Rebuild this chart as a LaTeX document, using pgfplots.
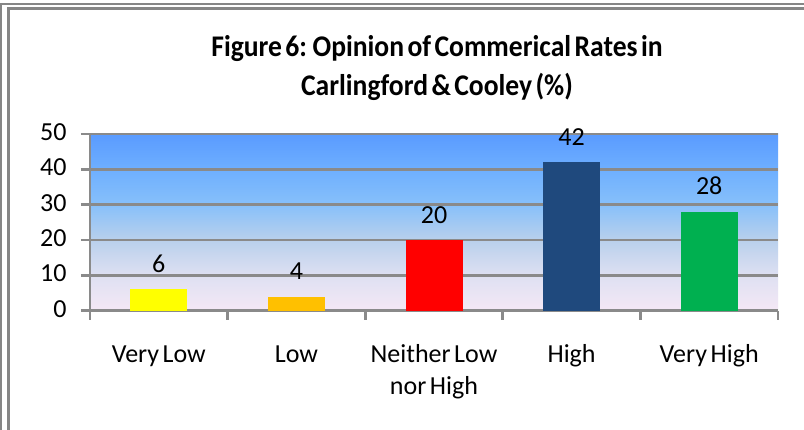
\documentclass[border=0pt]{standalone}
\usepackage{pgfplots}
\pgfplotsset{compat=1.18}
\usepackage{fontspec}
\setmainfont{Carlito}[WordSpace=0.6]
\newfontfamily\titlefont{Carlito}[FakeStretch=0.92, WordSpace=0.55]
\definecolor{bordergray}{HTML}{868686}
\definecolor{gridgray}{HTML}{8A8A8A}
\definecolor{cA}{HTML}{FFFF00}
\definecolor{cB}{HTML}{FFC000}
\definecolor{cC}{HTML}{FF0000}
\definecolor{cD}{HTML}{1F497D}
\definecolor{cE}{HTML}{00B050}
\pgfdeclareverticalshading{plotbg}{100bp}{%
  color(0bp)=(rgb,255:red,245;green,232;blue,245);
  color(25bp)=(rgb,255:red,245;green,232;blue,245);
  color(35bp)=(rgb,255:red,222;green,224;blue,242);
  color(45bp)=(rgb,255:red,185;green,208;blue,236);
  color(55bp)=(rgb,255:red,135;green,192;blue,250);
  color(65bp)=(rgb,255:red,110;green,175;blue,255);
  color(75bp)=(rgb,255:red,90;green,155;blue,255);
  color(100bp)=(rgb,255:red,90;green,155;blue,255)}
\begin{document}
\begin{tikzpicture}
\path[use as bounding box] (0,0) rectangle (804pt,430pt);
\fill[white] (0,0) rectangle (804pt,430pt);
\draw[bordergray, line width=1.8pt] (0.9pt,0) -- (0.9pt,426.3pt) -- (804pt,426.3pt);
\draw[bordergray, line width=3pt] (8.8pt,0) -- (8.8pt,421pt) -- (804pt,421pt);
\node[anchor=base, font=\titlefont\fontsize{30}{36}\selectfont\bfseries] at (437pt,373.3pt) {Figure 6: Opinion of Commerical Rates in};
\node[anchor=base, font=\titlefont\fontsize{30}{36}\selectfont\bfseries] at (437pt,334pt) {Carlingford \& Cooley (\%)};
\begin{axis}[
  at={(90pt,119.3pt)}, anchor=south west,
  scale only axis, width=688pt, height=176.7pt,
  xmin=0, xmax=5, ymin=0, ymax=50,
  xtick={0,1,2,3,4,5},
  x tick label as interval,
  xticklabels={Very Low,Low,{Neither Low\\nor High},High,Very High},
  ytick={0,10,20,30,40,50},
  axis x line*=bottom, axis y line*=left,
  axis line style={gridgray, line width=2.8pt},
  tick style={gridgray, line width=2.8pt},
  tick align=outside, major tick length=9pt,
  ymajorgrids, grid style={gridgray, line width=2.8pt},
  axis background/.style={shading=plotbg},
  ticklabel style={font=\fontsize{26}{31.7}\selectfont, text=black},
  xticklabel style={align=center, yshift=-17pt},
  typeset ticklabels with strut,
  yticklabel style={xshift=-11pt},
  /pgf/number format/assume math mode=true,
  ybar, bar width=57pt,
  nodes near coords,
  every node near coord/.append style={font=\fontsize{26}{30}\selectfont, anchor=base, yshift=17pt, text=black},
  clip=false,
]
\addplot[fill=cA, draw=none, bar shift=0pt] coordinates {(0.5,6)};
\addplot[fill=cB, draw=none, bar shift=0pt] coordinates {(1.5,4)};
\addplot[fill=cC, draw=none, bar shift=0pt] coordinates {(2.5,20)};
\addplot[fill=cD, draw=none, bar shift=0pt] coordinates {(3.5,42)};
\addplot[fill=cE, draw=none, bar shift=0pt] coordinates {(4.5,28)};
\end{axis}
\end{tikzpicture}
\end{document}
